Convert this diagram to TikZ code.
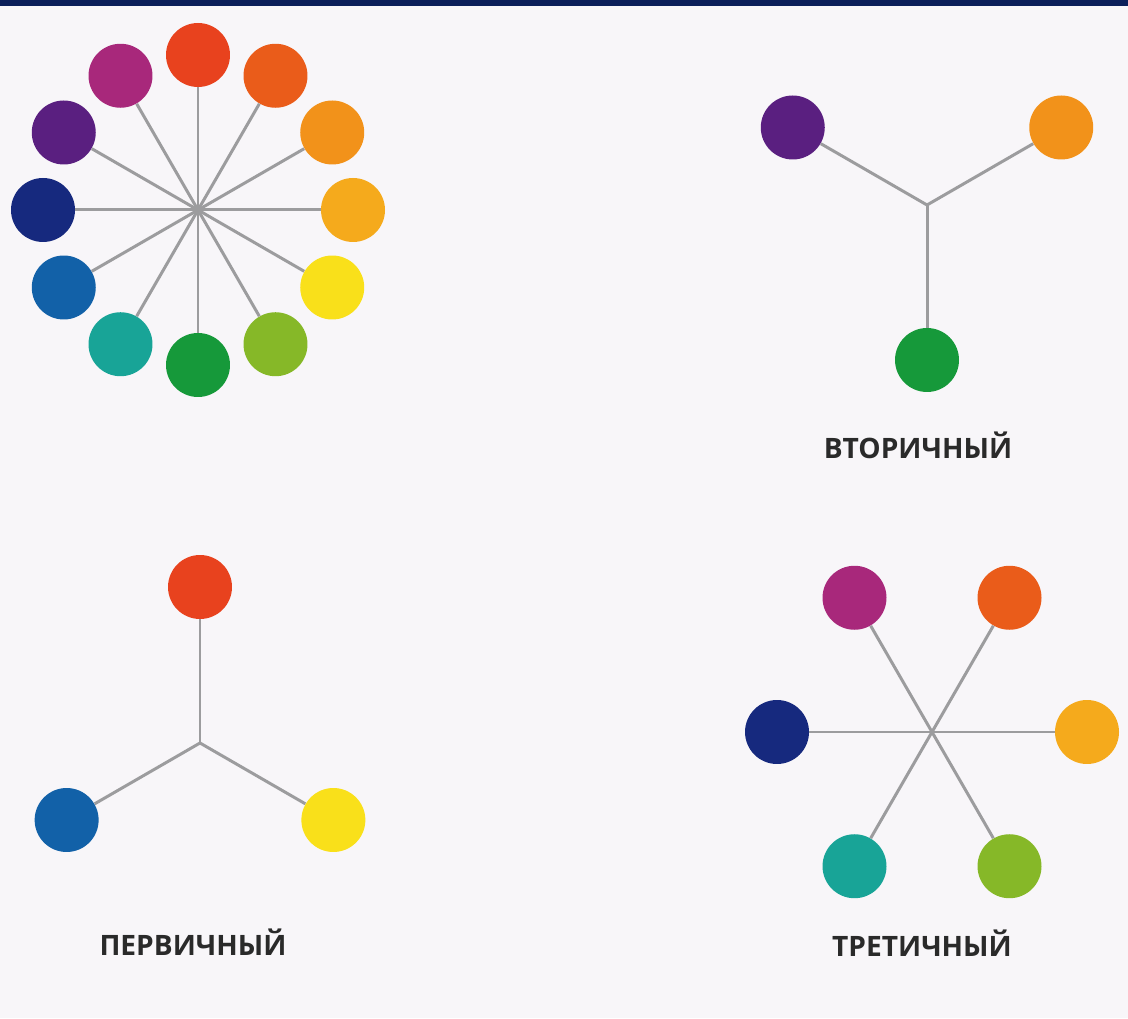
\documentclass[tikz,border=0pt]{standalone}
\usepackage{fontspec}
\setmainfont{Open Sans}
\usetikzlibrary{calc}
\definecolor{Paper}{HTML}{F8F6F9}
\definecolor{Band}{HTML}{0B1F5A}
\definecolor{Spoke}{HTML}{9C9C9E}
\definecolor{Caption}{HTML}{2A2A2A}
\definecolor{Red}{HTML}{E8421E}
\definecolor{RedOrange}{HTML}{EA5C1A}
\definecolor{Orange}{HTML}{F2921A}
\definecolor{Amber}{HTML}{F5AA1C}
\definecolor{Yellow}{HTML}{F9E01A}
\definecolor{Lime}{HTML}{86B828}
\definecolor{Green}{HTML}{16993A}
\definecolor{Teal}{HTML}{18A497}
\definecolor{Blue}{HTML}{1261A8}
\definecolor{Navy}{HTML}{16297E}
\definecolor{Violet}{HTML}{5A1F80}
\definecolor{Magenta}{HTML}{A8287B}
\tikzset{
  swatch/.style={circle, fill=#1, minimum size=1.28cm, inner sep=0pt},
  spoke/.style={draw=Spoke, line width=1.7pt},
  caption/.style={font=\bfseries\fontsize{16}{18}\selectfont, text=Caption}
}

\begin{document}
\begin{tikzpicture}[x=0.02cm,y=0.02cm]
  \fill[Paper] (0,0) rectangle (1128,1018);
  \fill[Band] (0,1012) rectangle (1128,1018);

  % full wheel
  \coordinate (hub) at (198,808);
  \foreach \c [count=\i] in {Red,RedOrange,Orange,Amber,Yellow,Lime,Green,Teal,Blue,Navy,Violet,Magenta}{
    \node[swatch=\c] (w\i) at ([shift={({90-30*(\i-1)}:155)}]hub) {};
    \draw[spoke] (hub) -- (w\i);
  }

  % secondary
  \coordinate (sec) at (927,813);
  \node[swatch=Violet] (sec-violet) at ([shift={(150:155)}]sec) {};
  \node[swatch=Orange] (sec-orange) at ([shift={(30:155)}]sec) {};
  \node[swatch=Green] (sec-green) at ([shift={(270:155)}]sec) {};
  \draw[spoke] (sec) -- (sec-violet);
  \draw[spoke] (sec) -- (sec-orange);
  \draw[spoke] (sec) -- (sec-green);
  \node[caption] (sec-label) at (918,573) {ВТОРИЧНЫЙ};

  % primary
  \coordinate (pri) at (200,275);
  \node[swatch=Red] (pri-red) at ([shift={(90:156)}]pri) {};
  \node[swatch=Blue] (pri-blue) at ([shift={(210:154)}]pri) {};
  \node[swatch=Yellow] (pri-yellow) at ([shift={(330:154)}]pri) {};
  \draw[spoke] (pri) -- (pri-red);
  \draw[spoke] (pri) -- (pri-blue);
  \draw[spoke] (pri) -- (pri-yellow);
  \node[caption] (pri-label) at (193,76) {ПЕРВИЧНЫЙ};

  % tertiary
  \coordinate (ter) at (932,286);
  \foreach \c/\a in {Amber/0,RedOrange/60,Magenta/120,Navy/180,Teal/240,Lime/300}{
    \node[swatch=\c] (ter-\a) at ([shift={(\a:155)}]ter) {};
    \draw[spoke] (ter) -- (ter-\a);
  }
  \node[caption] (ter-label) at (922,75) {ТРЕТИЧНЫЙ};
\end{tikzpicture}
\end{document}
